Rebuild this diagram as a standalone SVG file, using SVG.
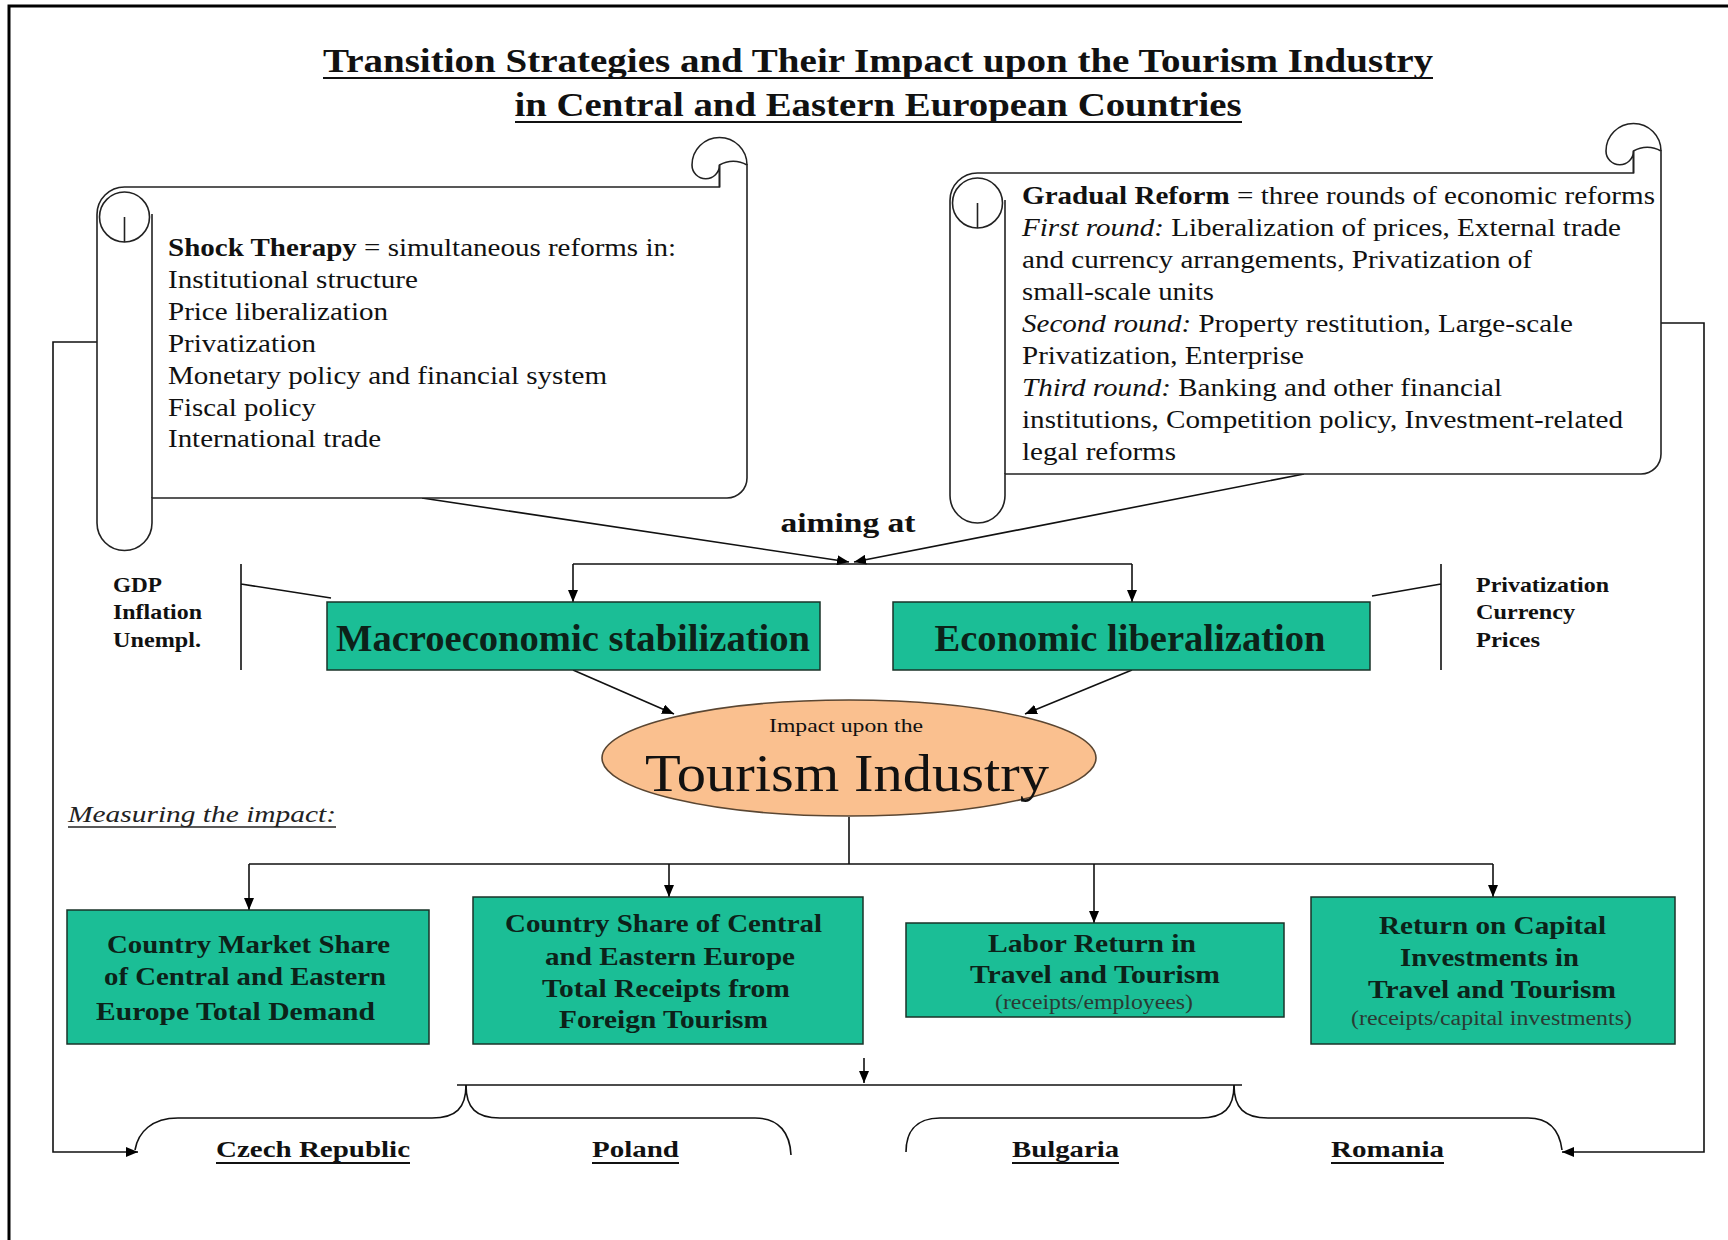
<svg xmlns="http://www.w3.org/2000/svg" width="1728" height="1240" viewBox="0 0 1728 1240">
<defs>
<marker id="arr" markerWidth="12" markerHeight="10" refX="12" refY="5" orient="auto" markerUnits="userSpaceOnUse">
<path d="M0,0 L12,5 L0,10 z" fill="#000"/>
</marker>
<style>
text{font-family:"Liberation Serif","Times New Roman",serif;fill:#111}
.b{font-weight:bold}
.i{font-style:italic}
.scroll{fill:#fff;stroke:#222;stroke-width:1.6}
.sl{fill:none;stroke:#222;stroke-width:1.6}
.box{fill:#1BBE96;stroke:#1a3328;stroke-width:1.5}
.bt{font-weight:bold;fill:#0c2219;text-anchor:middle;font-size:26px}
.st{fill:#2a3a33;text-anchor:middle;font-size:20px}
.s25{font-size:25px}
.ind{font-weight:bold;font-size:21px}
.ln{fill:none;stroke:#111;stroke-width:1.6}
.ul{stroke:#111;stroke-width:2}
</style>
</defs>
<rect width="1728" height="1240" fill="#fff"/>
<path d="M9,1240 V6 H1728" fill="none" stroke="#000" stroke-width="3"/>

<g id="title">
<text class="b" x="878" y="72" font-size="34" text-anchor="middle" textLength="1110" lengthAdjust="spacingAndGlyphs">Transition Strategies and Their Impact upon the Tourism Industry</text>
<line class="ul" x1="323" y1="78" x2="1433" y2="78"/>
<text class="b" x="878" y="116" font-size="34" text-anchor="middle" textLength="727" lengthAdjust="spacingAndGlyphs">in Central and Eastern European Countries</text>
<line class="ul" x1="515" y1="122" x2="1242" y2="122"/>
</g>

<g id="connectors">
<path class="ln" d="M422,498 L849,562" marker-end="url(#arr)"/>
<path class="ln" d="M1304,474 L854,562" marker-end="url(#arr)"/>
<path class="ln" d="M573,564 H1132"/>
<path class="ln" d="M573,564 V602" marker-end="url(#arr)"/>
<path class="ln" d="M1132,564 V602" marker-end="url(#arr)"/>
<path class="ln" d="M241,564 V670 M241,584 L331,598"/>
<path class="ln" d="M1441,564 V670 M1441,584 L1372,596"/>
<path class="ln" d="M573,670 L674,714" marker-end="url(#arr)"/>
<path class="ln" d="M1132,670 L1025,714" marker-end="url(#arr)"/>
<path class="ln" d="M849,817 V864 M249,864 H1493" stroke-width="2"/>
<path class="ln" d="M249,864 V910" marker-end="url(#arr)"/>
<path class="ln" d="M669,864 V897" marker-end="url(#arr)"/>
<path class="ln" d="M1094,864 V923" marker-end="url(#arr)"/>
<path class="ln" d="M1493,864 V897" marker-end="url(#arr)"/>
<path class="ln" d="M864,1058 V1083" marker-end="url(#arr)"/>
<path class="ln" d="M457,1085 H1242" stroke-width="2.4"/>
<path class="ln" d="M466,1085 C466,1108 456,1118 432,1118 H178 C152,1118 138,1132 135,1150"/>
<path class="ln" d="M466,1085 C466,1108 476,1118 500,1118 H755 C780,1118 790,1134 791,1155"/>
<path class="ln" d="M1234,1085 C1234,1108 1224,1118 1200,1118 H940 C914,1118 906,1134 906,1152"/>
<path class="ln" d="M1234,1085 C1234,1108 1244,1118 1268,1118 H1528 C1552,1118 1560,1134 1562,1150"/>
<path class="ln" d="M97,342 H53 V1152 H138" marker-end="url(#arr)"/>
<path class="ln" d="M1661,323 H1704 V1152 H1562" marker-end="url(#arr)"/>
</g>

<g id="shock-therapy">
<path class="scroll" d="M124.5,187 H719.5 V165 A27.5,27.5 0 0 1 747,165 V478 A20,20 0 0 1 727,498 H152 V523 A27.5,27.5 0 0 1 97,523 V214.5 A27.5,27.5 0 0 1 124.5,187 Z"/>
<path class="sl" d="M747,165 A27.5,27.5 0 1 0 692,165 A13.75,13.75 0 0 0 719.5,165 V187"/>
<circle class="sl" cx="124.5" cy="217" r="25"/>
<path class="sl" d="M124.5,217 V242 M152,214 V498"/>
<text class="s25" x="168" y="256" textLength="508" lengthAdjust="spacingAndGlyphs"><tspan class="b">Shock Therapy</tspan> = simultaneous reforms in:</text>
<text class="s25" x="168" y="288" textLength="250" lengthAdjust="spacingAndGlyphs">Institutional structure</text>
<text class="s25" x="168" y="320" textLength="220" lengthAdjust="spacingAndGlyphs">Price liberalization</text>
<text class="s25" x="168" y="352" textLength="148" lengthAdjust="spacingAndGlyphs">Privatization</text>
<text class="s25" x="168" y="384" textLength="439" lengthAdjust="spacingAndGlyphs">Monetary policy and financial system</text>
<text class="s25" x="168" y="416" textLength="148" lengthAdjust="spacingAndGlyphs">Fiscal policy</text>
<text class="s25" x="168" y="447" textLength="213" lengthAdjust="spacingAndGlyphs">International trade</text>
</g>

<g id="gradual-reform">
<path class="scroll" d="M977.5,173 H1633.5 V151 A27.5,27.5 0 0 1 1661,151 V454 A20,20 0 0 1 1641,474 H1005 V495.5 A27.5,27.5 0 0 1 950,495.5 V200.5 A27.5,27.5 0 0 1 977.5,173 Z"/>
<path class="sl" d="M1661,151 A27.5,27.5 0 1 0 1606,151 A13.75,13.75 0 0 0 1633.5,151 V173"/>
<circle class="sl" cx="977.5" cy="203" r="25"/>
<path class="sl" d="M977.5,203 V228 M1005,200 V474"/>
<text class="s25" x="1022" y="204" textLength="633" lengthAdjust="spacingAndGlyphs"><tspan class="b">Gradual Reform</tspan> = three rounds of economic reforms</text>
<text class="s25" x="1022" y="236" textLength="599" lengthAdjust="spacingAndGlyphs"><tspan class="i">First round:</tspan> Liberalization of prices, External trade</text>
<text class="s25" x="1022" y="268" textLength="510" lengthAdjust="spacingAndGlyphs">and currency arrangements, Privatization of</text>
<text class="s25" x="1022" y="300" textLength="192" lengthAdjust="spacingAndGlyphs">small-scale units</text>
<text class="s25" x="1022" y="332" textLength="551" lengthAdjust="spacingAndGlyphs"><tspan class="i">Second round:</tspan> Property restitution, Large-scale</text>
<text class="s25" x="1022" y="364" textLength="282" lengthAdjust="spacingAndGlyphs">Privatization, Enterprise</text>
<text class="s25" x="1022" y="396" textLength="480" lengthAdjust="spacingAndGlyphs"><tspan class="i">Third round:</tspan> Banking and other financial</text>
<text class="s25" x="1022" y="428" textLength="601" lengthAdjust="spacingAndGlyphs">institutions, Competition policy, Investment-related</text>
<text class="s25" x="1022" y="460" textLength="154" lengthAdjust="spacingAndGlyphs">legal reforms</text>
</g>

<g id="aiming-at">
<text class="b" x="848" y="532" font-size="27" text-anchor="middle" textLength="135" lengthAdjust="spacingAndGlyphs">aiming at</text>
</g>

<g id="macro-indicators">
<text class="ind" x="113" y="592" textLength="49" lengthAdjust="spacingAndGlyphs">GDP</text>
<text class="ind" x="113" y="619" textLength="89" lengthAdjust="spacingAndGlyphs">Inflation</text>
<text class="ind" x="113" y="647" textLength="88" lengthAdjust="spacingAndGlyphs">Unempl.</text>
</g>
<g id="lib-indicators">
<text class="ind" x="1476" y="592" textLength="133" lengthAdjust="spacingAndGlyphs">Privatization</text>
<text class="ind" x="1476" y="619" textLength="99" lengthAdjust="spacingAndGlyphs">Currency</text>
<text class="ind" x="1476" y="647" textLength="64" lengthAdjust="spacingAndGlyphs">Prices</text>
</g>

<g id="macro-stabilization">
<rect class="box" x="327" y="602" width="493" height="68"/>
<text class="bt" x="573" y="651" style="font-size:37px" textLength="474" lengthAdjust="spacingAndGlyphs">Macroeconomic stabilization</text>
</g>
<g id="economic-liberalization">
<rect class="box" x="893" y="602" width="477" height="68"/>
<text class="bt" x="1130" y="651" style="font-size:37px" textLength="391" lengthAdjust="spacingAndGlyphs">Economic liberalization</text>
</g>

<g id="tourism-industry">
<ellipse cx="849" cy="758" rx="247" ry="58" fill="#FAC08F" stroke="#5a4632" stroke-width="1.6"/>
<text x="846" y="732" font-size="19" text-anchor="middle" textLength="154" lengthAdjust="spacingAndGlyphs">Impact upon the</text>
<text x="847" y="791" font-size="53" text-anchor="middle" textLength="404" lengthAdjust="spacingAndGlyphs">Tourism Industry</text>
</g>

<g id="measuring">
<text class="i" x="68" y="822" font-size="24" style="fill:#222" textLength="268" lengthAdjust="spacingAndGlyphs">Measuring the impact:</text>
<line x1="68" y1="827" x2="336" y2="827" stroke="#222" stroke-width="1.3"/>
</g>

<g id="market-share">
<rect class="box" x="67" y="910" width="362" height="134"/>
<text class="bt" x="248.5" y="953" textLength="283" lengthAdjust="spacingAndGlyphs">Country Market Share</text>
<text class="bt" x="245" y="985" textLength="282" lengthAdjust="spacingAndGlyphs">of Central and Eastern</text>
<text class="bt" x="235.5" y="1020" textLength="279" lengthAdjust="spacingAndGlyphs">Europe Total Demand</text>
</g>
<g id="receipts-share">
<rect class="box" x="473" y="897" width="390" height="147"/>
<text class="bt" x="663.5" y="932" textLength="317" lengthAdjust="spacingAndGlyphs">Country Share of Central</text>
<text class="bt" x="670" y="965" textLength="250" lengthAdjust="spacingAndGlyphs">and Eastern Europe</text>
<text class="bt" x="666" y="997" textLength="248" lengthAdjust="spacingAndGlyphs">Total Receipts from</text>
<text class="bt" x="663.5" y="1028" textLength="209" lengthAdjust="spacingAndGlyphs">Foreign Tourism</text>
</g>
<g id="labor-return">
<rect class="box" x="906" y="923" width="378" height="94"/>
<text class="bt" x="1092" y="952" textLength="208" lengthAdjust="spacingAndGlyphs">Labor Return in</text>
<text class="bt" x="1095" y="983" textLength="250" lengthAdjust="spacingAndGlyphs">Travel and Tourism</text>
<text class="st" x="1094" y="1009" textLength="198" lengthAdjust="spacingAndGlyphs">(receipts/employees)</text>
</g>
<g id="capital-return">
<rect class="box" x="1311" y="897" width="364" height="147"/>
<text class="bt" x="1492.5" y="934" textLength="227" lengthAdjust="spacingAndGlyphs">Return on Capital</text>
<text class="bt" x="1489.5" y="966" textLength="179" lengthAdjust="spacingAndGlyphs">Investments in</text>
<text class="bt" x="1492" y="998" textLength="248" lengthAdjust="spacingAndGlyphs">Travel and Tourism</text>
<text class="st" x="1491.5" y="1025" textLength="281" lengthAdjust="spacingAndGlyphs">(receipts/capital investments)</text>
</g>

<g id="czech-republic">
<text class="b" x="313" y="1157" font-size="24" text-anchor="middle" textLength="194" lengthAdjust="spacingAndGlyphs">Czech Republic</text>
<line class="ul" x1="216" y1="1163" x2="410" y2="1163"/>
</g>
<g id="poland">
<text class="b" x="635.5" y="1157" font-size="24" text-anchor="middle" textLength="87" lengthAdjust="spacingAndGlyphs">Poland</text>
<line class="ul" x1="592" y1="1163" x2="679" y2="1163"/>
</g>
<g id="bulgaria">
<text class="b" x="1065.5" y="1157" font-size="24" text-anchor="middle" textLength="107" lengthAdjust="spacingAndGlyphs">Bulgaria</text>
<line class="ul" x1="1012" y1="1163" x2="1119" y2="1163"/>
</g>
<g id="romania">
<text class="b" x="1387.5" y="1157" font-size="24" text-anchor="middle" textLength="113" lengthAdjust="spacingAndGlyphs">Romania</text>
<line class="ul" x1="1331" y1="1163" x2="1444" y2="1163"/>
</g>
</svg>
